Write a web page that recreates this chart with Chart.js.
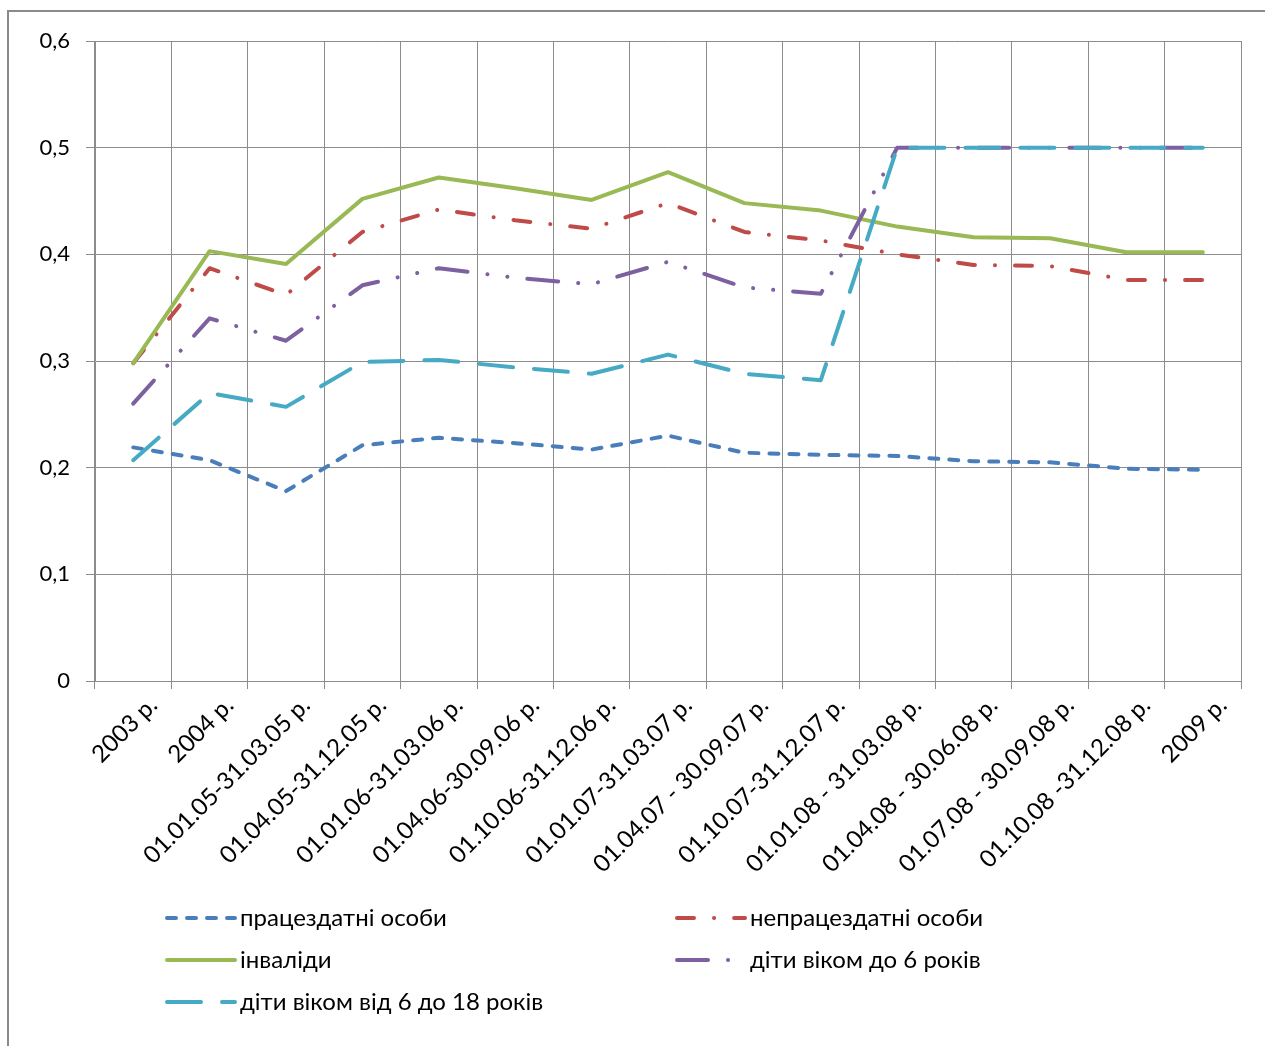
<!DOCTYPE html>
<html>
<head>
<meta charset="utf-8">
<script src="https://cdn.jsdelivr.net/npm/chart.js@4/dist/chart.umd.min.js"></script>
<style>
  html, body { margin: 0; padding: 0; background: #fff; overflow: hidden; }
  #frame { position: absolute; left: 7px; top: 10px; width: 1400px; height: 1200px; border: 2px solid #8a8a8a; box-sizing: border-box; }
  #c { position: absolute; left: 0; top: 0; }
</style>
</head>
<body>
<div id="frame"></div>
<canvas id="c" width="1265" height="1046"></canvas>
<script>
const categories = ['2003 р.', '2004 р.', '01.01.05-31.03.05 р.', '01.04.05-31.12.05 р.', '01.01.06-31.03.06 р.',
  '01.04.06-30.09.06 р.', '01.10.06-31.12.06 р.', '01.01.07-31.03.07 р.', '01.04.07 - 30.09.07 р.',
  '01.10.07-31.12.07 р.', '01.01.08 - 31.03.08 р.', '01.04.08 - 30.06.08 р.', '01.07.08 - 30.09.08 р.',
  '01.10.08 -31.12.08 р.', '2009 р.'];
const seriesNames = ['працездатні особи', 'непрацездатні особи', 'інваліди', 'діти віком до 6 років', 'діти віком від 6 до 18 років'];
const ableBodied = [0.219, 0.207, 0.178, 0.221, 0.228, 0.223, 0.217, 0.230, 0.214, 0.212, 0.211, 0.206, 0.205, 0.199, 0.198];
const unableBodied = [0.298, 0.387, 0.362, 0.421, 0.442, 0.432, 0.424, 0.448, 0.421, 0.413, 0.400, 0.390, 0.389, 0.376, 0.376];
const disabled = [0.298, 0.403, 0.391, 0.452, 0.472, 0.462, 0.451, 0.477, 0.448, 0.441, 0.426, 0.416, 0.415, 0.402, 0.402];
const kidsUnder6 = [0.260, 0.340, 0.319, 0.371, 0.387, 0.378, 0.372, 0.393, 0.369, 0.363, 0.5, 0.5, 0.5, 0.5, 0.5];
const kids6to18 = [0.207, 0.270, 0.257, 0.299, 0.301, 0.294, 0.288, 0.306, 0.288, 0.282, 0.5, 0.5, 0.5, 0.5, 0.5];
const yTicks = [0, 0.1, 0.2, 0.3, 0.4, 0.5, 0.6];

const FONT = "Lato, 'Noto Sans', sans-serif";
const colors = ['#4A7EBB', '#BE4B48', '#98B954', '#7D60A0', '#46AAC5'];
const dashes = [[9, 11], [17, 20, 0.1, 20], [], [31, 20, 0.1, 20, 0.1, 20], [34, 21]];
const allData = [ableBodied, unableBodied, disabled, kidsUnder6, kids6to18];

const datasets = allData.map((d, i) => ({
  label: seriesNames[i],
  data: d,
  borderColor: colors[i],
  backgroundColor: colors[i],
  borderWidth: 4,
  borderDash: dashes[i],
  borderCapStyle: 'round',
  borderJoinStyle: 'round',
  pointRadius: 0,
  tension: 0,
  fill: false,
  order: 5 - i
}));

const legendPlugin = {
  id: 'customLegend',
  afterDraw(chart) {
    const ctx = chart.ctx;
    const cols = [165, 675];
    const rows = [918, 960, 1002];
    ctx.save();
    datasets.forEach((ds, i) => {
      const x = cols[i % 2];
      const y = rows[Math.floor(i / 2)];
      ctx.beginPath();
      ctx.strokeStyle = ds.borderColor;
      ctx.lineWidth = 4;
      ctx.lineCap = 'round';
      ctx.setLineDash(ds.borderDash);
      ctx.moveTo(x + 2, y);
      ctx.lineTo(x + 70, y);
      ctx.stroke();
      ctx.setLineDash([]);
      ctx.fillStyle = '#000';
      ctx.font = "24px " + FONT;
      ctx.textBaseline = 'middle';
      ctx.textAlign = 'left';
      ctx.fillText(ds.label, x + 75, y);
    });
    ctx.restore();
  }
};

new Chart(document.getElementById('c'), {
  type: 'line',
  data: { labels: categories, datasets },
  options: {
    responsive: false,
    animation: false,
    layout: { padding: { left: 0, top: 41, right: 24, bottom: 0 } },
    plugins: { legend: { display: false }, tooltip: { enabled: false } },
    scales: {
      x: {
        offset: true,
        grid: { offset: true, color: '#8c8c8c', lineWidth: 1, tickLength: 8, drawTicks: true },
        border: { color: '#8c8c8c' },
        ticks: {
          autoSkip: false, maxRotation: 45, minRotation: 45, padding: 2, labelOffset: 20,
          color: '#000', font: { family: FONT, size: 24 }
        },
        afterFit(scale) { scale.height = 1046 - 681; }
      },
      y: {
        min: 0, max: 0.6,
        afterBuildTicks(scale) { scale.ticks = yTicks.map(v => ({ value: v })); },
        grid: { color: '#8c8c8c', lineWidth: 1, tickLength: 9 },
        border: { color: '#8c8c8c' },
        ticks: {
          padding: 16, color: '#000', font: { family: FONT, size: 22 },
          callback: v => v === 0 ? '0' : Number(v).toFixed(1).replace('.', ',')
        },
        afterFit(scale) { scale.width = 95; }
      }
    }
  },
  plugins: [legendPlugin]
});
</script>
</body>
</html>
